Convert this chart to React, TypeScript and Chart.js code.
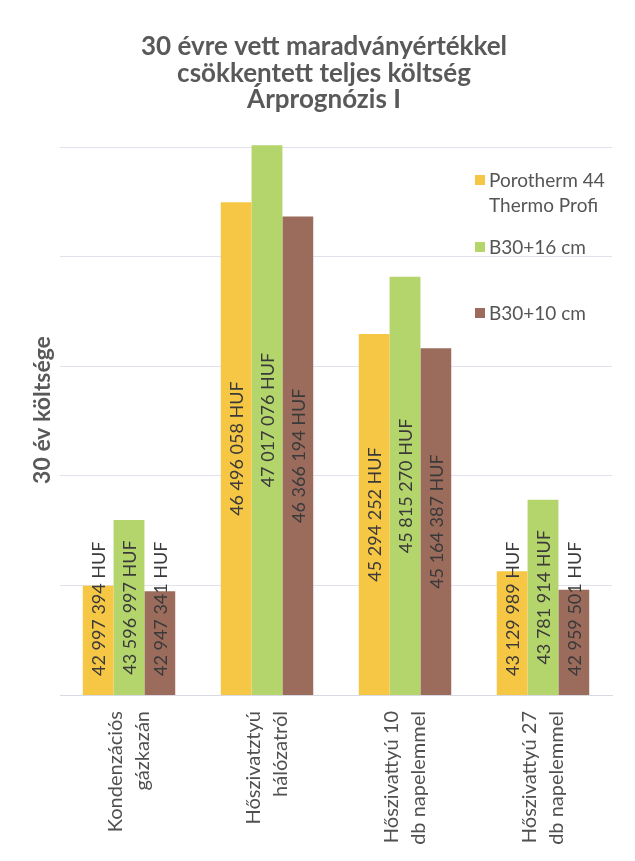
import React, { useEffect, useRef } from "react";
import { Chart, registerables } from "chart.js";

Chart.register(...registerables);

const titleLines = ["30 évre vett maradványértékkel", "csökkentett teljes költség", "Árprognózis I"];
const yAxisTitle = "30 év költsége";
const categories = [
  ["Kondenzációs", "gázkazán"],
  ["Hőszivatztyú", "hálózatról"],
  ["Hőszivattyú 10", "db napelemmel"],
  ["Hőszivattyú 27", "db napelemmel"],
];
const seriesNames = [["Porotherm 44", "Thermo Profi"], ["B30+16 cm"], ["B30+10 cm"]];
const porotherm = [42997394, 46496058, 45294252, 43129989];
const b30plus16 = [43596997, 47017076, 45815270, 43781914];
const b30plus10 = [42947341, 46366194, 45164387, 42959501];
const yMin = 42000000;
const yMax = 47000000;
const yStep = 1000000;
const seriesColors = ["#F6C744", "#B4D46C", "#9B6B5C"];

const FONT = "Lato, 'Noto Sans', sans-serif";

function fmt(v: number): string {
  return String(v).replace(/\B(?=(\d{3})+(?!\d))/g, " ") + " HUF";
}

const overlayPlugin = {
  id: "overlay",
  afterDatasetsDraw(chart: any) {
    const ctx = chart.ctx;
    const base = chart.chartArea.bottom;
    chart.data.datasets.forEach((ds: any, di: number) => {
      const meta = chart.getDatasetMeta(di);
      meta.data.forEach((bar: any, i: number) => {
        const text = fmt(ds.data[i]);
        ctx.save();
        ctx.font = `18px ${FONT}`;
        const w = ctx.measureText(text).width;
        let cy = (bar.y + base) / 2;
        const maxBottom = base - 19;
        if (cy + w / 2 > maxBottom) cy = maxBottom - w / 2;
        ctx.translate(bar.x, cy);
        ctx.rotate(-Math.PI / 2);
        ctx.textAlign = "center";
        ctx.textBaseline = "middle";
        ctx.fillStyle = "#3a3a3a";
        ctx.fillText(text, 0, 1);
        ctx.restore();
      });
    });
  },
  afterDraw(chart: any) {
    const ctx = chart.ctx;
    ctx.save();
    // title
    ctx.font = `bold 26px ${FONT}`;
    ctx.fillStyle = "#595959";
    ctx.textAlign = "center";
    ctx.textBaseline = "middle";
    titleLines.forEach((t, i) => ctx.fillText(t, 324, 47 + i * 26.5));
    // y axis title
    ctx.save();
    ctx.translate(43, 410);
    ctx.rotate(-Math.PI / 2);
    ctx.font = `bold 23px ${FONT}`;
    ctx.fillText(yAxisTitle, 0, 0);
    ctx.restore();
    // legend
    const itemY = [180, 247, 313];
    ctx.textAlign = "left";
    ctx.font = `19px ${FONT}`;
    seriesNames.forEach((lines, i) => {
      ctx.fillStyle = seriesColors[i];
      ctx.fillRect(475, itemY[i] - 5, 10, 10);
      ctx.fillStyle = "#555555";
      lines.forEach((l, j) => ctx.fillText(l, 489, itemY[i] + 1 + j * 25));
    });
    ctx.restore();
  },
};

export default function App() {
  const ref = useRef<HTMLCanvasElement | null>(null);
  useEffect(() => {
    if (!ref.current) return;
    const seriesData = [porotherm, b30plus16, b30plus10];
    const chart = new Chart(ref.current, {
      type: "bar",
      data: {
        labels: categories,
        datasets: seriesData.map((d, i) => ({
          label: seriesNames[i].join(" "),
          data: d,
          backgroundColor: seriesColors[i],
          borderWidth: 0,
          barPercentage: 1,
          categoryPercentage: 0.67,
          clip: { left: 0, top: false, right: 0, bottom: 0 } as any,
        })),
      },
      options: {
        animation: false,
        responsive: true,
        maintainAspectRatio: false,
        layout: { padding: { top: 147, right: 23, left: 0, bottom: 0 } },
        plugins: {
          legend: { display: false },
          title: { display: false },
          tooltip: { enabled: false },
        },
        scales: {
          x: {
            grid: { display: false, drawTicks: false },
            border: { display: true, color: "#d8d9e2" },
            ticks: {
              minRotation: 90,
              maxRotation: 90,
              autoSkip: false,
              padding: 16,
              labelOffset: -13.5,
              color: "#505050",
              font: { family: FONT, size: 20, lineHeight: 1.35 },
            },
            afterFit: (s: any) => {
              s.height = 166;
            },
          },
          y: {
            min: yMin,
            max: yMax,
            ticks: { display: false, stepSize: yStep },
            grid: { color: "#e0e1ea", drawTicks: false },
            border: { display: false },
            afterFit: (s: any) => {
              s.width = 60;
            },
          },
        },
      },
      plugins: [overlayPlugin],
    });
    return () => chart.destroy();
  }, []);
  return (
    <div style={{ position: "fixed", left: 0, top: 0, width: 635, height: 861, background: "#ffffff" }}>
      <canvas ref={ref} />
    </div>
  );
}
